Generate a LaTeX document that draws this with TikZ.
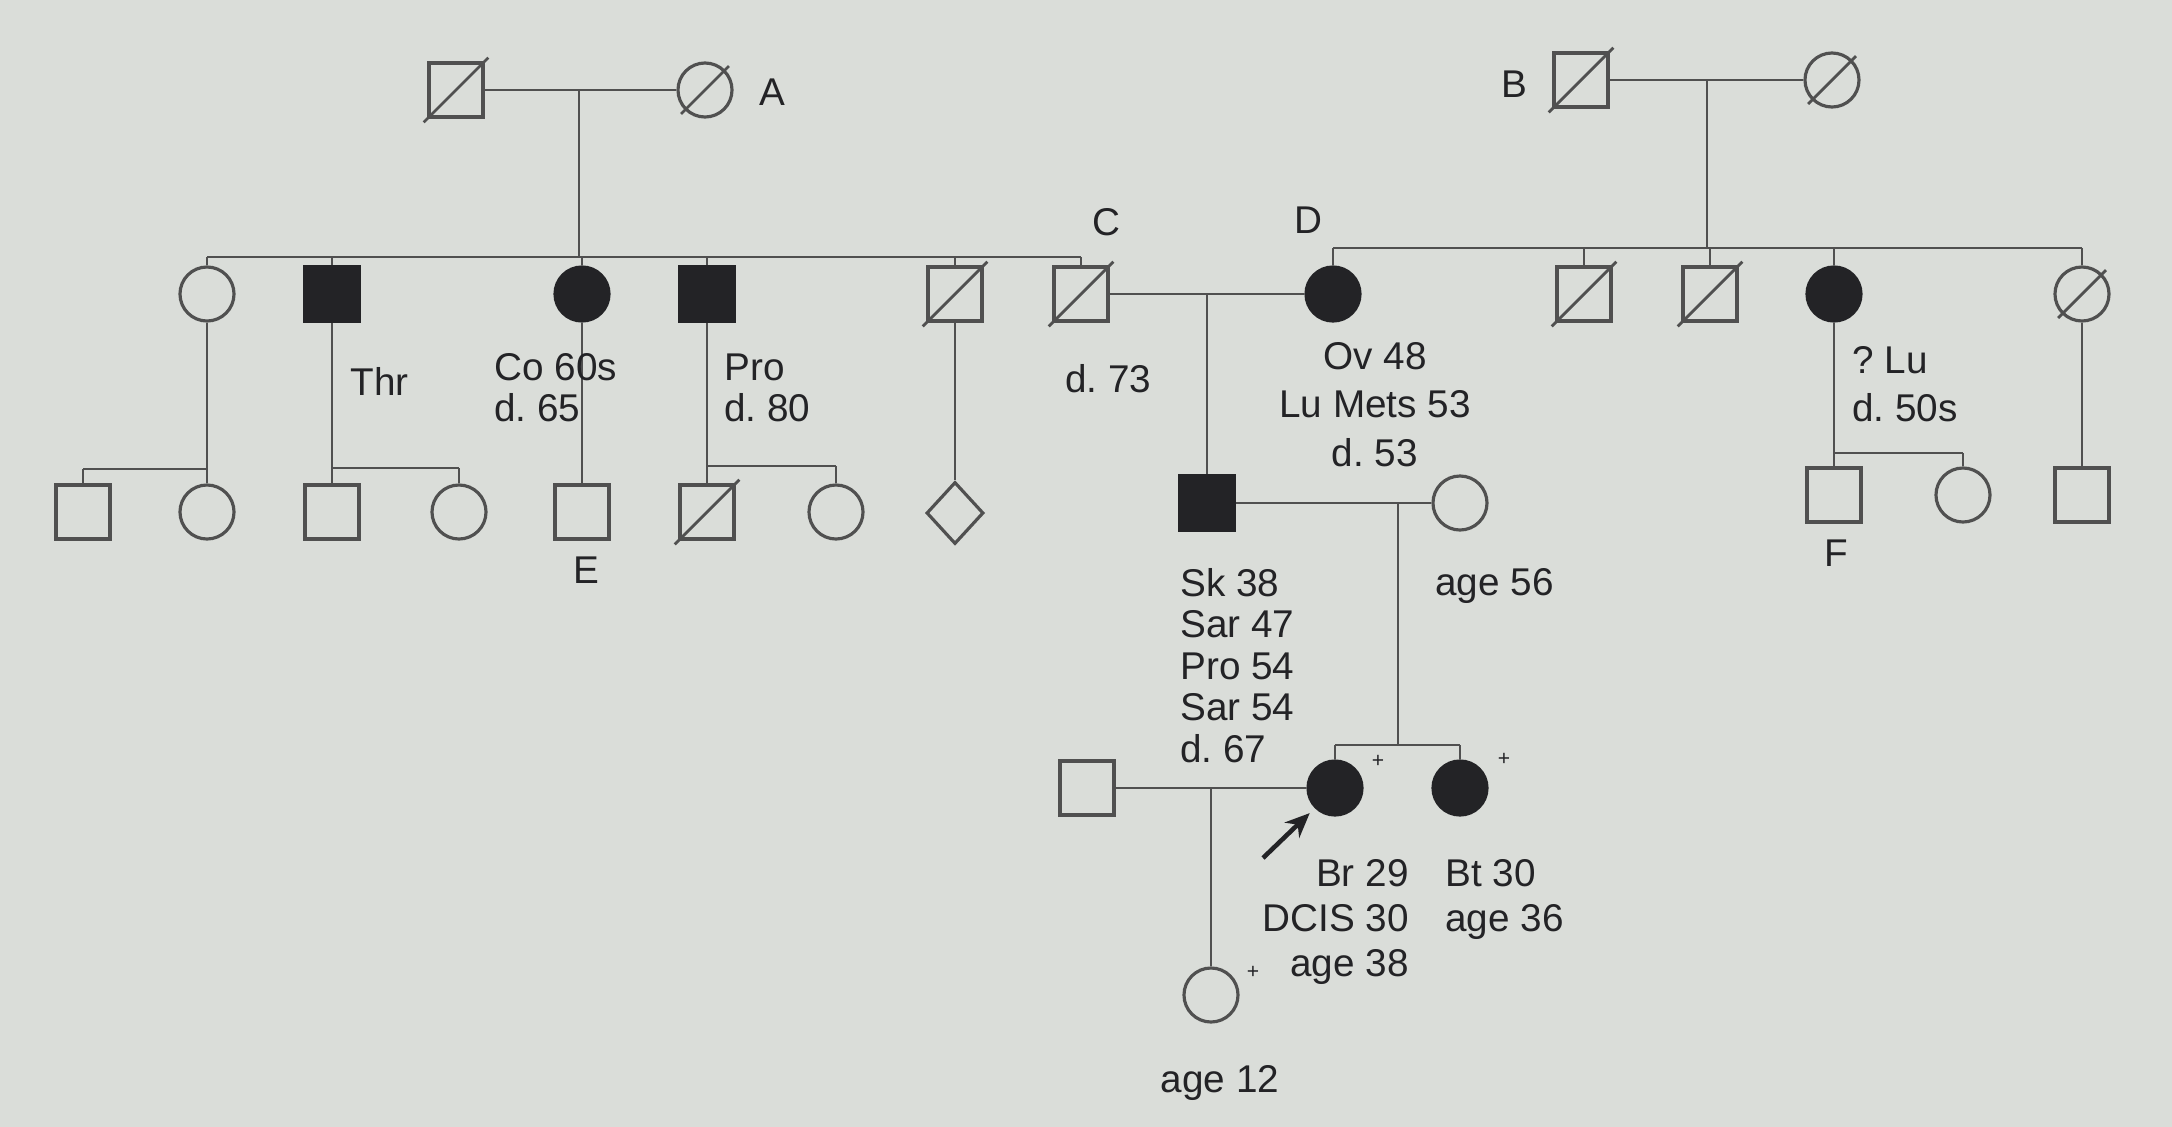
\documentclass[tikz,border=0pt]{standalone}
\usepackage{fontspec}
\setmainfont{Liberation Sans}
\usetikzlibrary{shapes.geometric,arrows.meta}
\definecolor{screen}{RGB}{218,221,217}
\definecolor{ink}{RGB}{35,35,38}
\definecolor{wire}{RGB}{80,80,80}
\frenchspacing

\begin{document}
\begin{tikzpicture}[x=0.01cm, y=-0.01cm, line width=0.8pt, wire,
  male/.style={rectangle, draw=wire, line width=0.9pt, minimum size=0.54cm, inner sep=0},
  female/.style={circle, draw=wire, line width=0.9pt, minimum size=0.54cm, inner sep=0},
  unknown/.style={diamond, draw=wire, line width=0.9pt, minimum width=0.57cm, minimum height=0.62cm, inner sep=0},
  affected/.style={fill=ink, draw=ink},
  dead/.style={append after command={(\tikzlastnode.south west) edge[draw=wire, line width=0.8pt, shorten <=-1.5pt, shorten >=-1.5pt] (\tikzlastnode.north east)}},
  lbl/.style={inner sep=0, text=ink, font=\fontsize{11}{11.8}\selectfont},
  tag/.style={inner sep=0, text=ink, font=\fontsize{6}{6}\selectfont}]
\fill[screen] (0,0) rectangle (2172,1127);
\useasboundingbox (0,0) rectangle (2172,1127);

% generation I
\node[male, dead] (gpA) at (456,90) {};
\node[female, dead] (gmA) at (705,90) {};
\node[male, dead] (gpB) at (1581,80) {};
\node[female, dead] (gmB) at (1832,80) {};
\coordinate (cA) at (579,90);
\coordinate (sA) at (579,257);
\coordinate (cB) at (1707,80);
\coordinate (sB) at (1707,248);
\draw (gpA) -- (gmA);
\draw (gpB) -- (gmB);
\draw (cA) -- (sA);
\draw (cB) -- (sB);

% generation II
\node[female] (a1) at (207,294) {};
\node[male, affected] (a2) at (332,294) {};
\node[female, affected] (a3) at (582,294) {};
\node[male, affected] (a4) at (707,294) {};
\node[male, dead] (a5) at (955,294) {};
\node[male, dead] (c) at (1081,294) {};
\node[female, affected] (d) at (1333,294) {};
\node[male, dead] (b2) at (1584,294) {};
\node[male, dead] (b3) at (1710,294) {};
\node[female, affected] (b4) at (1834,294) {};
\node[female, dead] (b5) at (2082,294) {};
\draw (a1 |- sA) -- (c |- sA);
\draw (d |- sB) -- (b5 |- sB);
\foreach \k in {a1,a2,a3,a4,a5,c} \draw (\k) -- (\k |- sA);
\foreach \k in {d,b2,b3,b4,b5} \draw (\k) -- (\k |- sB);
\draw (c) -- (d);
\coordinate (cCD) at (1207,294);

% generation III
\node[male] (g1) at (83,512) {};
\node[female] (g2) at (207,512) {};
\node[male] (g3) at (332,512) {};
\node[female] (g4) at (459,512) {};
\node[male] (e) at (582,512) {};
\node[male, dead] (g6) at (707,512) {};
\node[female] (g7) at (836,512) {};
\node[unknown] (g8) at (955,513) {};
\node[male, affected] (son) at (1207,503) {};
\node[female] (wife) at (1460,503) {};
\node[male] (f) at (1834,495) {};
\node[female] (g10) at (1963,495) {};
\node[male] (g11) at (2082,495) {};
\coordinate (s1) at (207,469);
\coordinate (s2) at (332,468);
\coordinate (s4) at (707,466);
\coordinate (s5) at (1834,453);
\draw (a1) -- (g2);
\draw (g1 |- s1) -- (s1);
\draw (g1) -- (g1 |- s1);
\draw (a2) -- (g3);
\draw (s2) -- (g4 |- s2);
\draw (g4) -- (g4 |- s2);
\draw (a3) -- (e);
\draw (a4) -- (g6);
\draw (s4) -- (g7 |- s4);
\draw (g7) -- (g7 |- s4);
\draw (a5) -- (g8);
\draw (cCD) -- (son);
\draw (son) -- (wife);
\draw (b4) -- (f);
\draw (s5) -- (g10 |- s5);
\draw (g10) -- (g10 |- s5);
\draw (b5) -- (g11);
\coordinate (cS) at (1398,503);
\coordinate (sS) at (1398,745);
\draw (cS) -- (sS);

% generation IV
\node[male] (hub) at (1087,788) {};
\node[female, affected] (pb) at (1335,788) {};
\node[female, affected] (sis) at (1460,788) {};
\draw (pb |- sS) -- (sis |- sS);
\draw (pb) -- (pb |- sS);
\draw (sis) -- (sis |- sS);
\draw (hub) -- (pb);
\coordinate (cP) at (1211,788);
\node[female] (kid) at (1211,995) {};
\draw (cP) -- (kid);
\coordinate (arrtail) at (1263,858);
\draw[ink, line width=1.3pt, -{Stealth[length=7pt, width=6pt]}, shorten >=2pt] (arrtail) -- (pb.south west);
\node[tag] (p1) at (1378,761) {+};
\node[tag] (p2) at (1504,759) {+};
\node[tag] (p3) at (1253,972) {+};

% labels
\node[lbl] (labA) at (772,92) {A};
\node[lbl] (labB) at (1514,84) {B};
\node[lbl] (labC) at (1106,222) {C};
\node[lbl] (labD) at (1308,220) {D};
\node[lbl] (labE) at (586,570) {E};
\node[lbl] (labF) at (1836,553) {F};
\node[lbl, anchor=west] (thr) at (349,381) {Thr};
\node[lbl, anchor=north west, align=left] (co) at (493,352) {Co 60s\\d. 65};
\node[lbl, anchor=north west, align=left] (pro) at (723,352) {Pro\\d. 80};
\node[lbl, anchor=west] (d73) at (1064,379) {d. 73};
\node[lbl, anchor=north, align=center] (ov) at (1375,341) {Ov 48\\[2pt]Lu Mets 53\\[2pt]d. 53};
\node[lbl, anchor=north west, align=left] (lu) at (1851,345) {? Lu\\[2pt]d. 50s};
\node[lbl, anchor=north west, align=left] (sk) at (1179,567) {Sk 38\\Sar 47\\Pro 54\\Sar 54\\d. 67};
\node[lbl, anchor=west] (a56) at (1434,586) {age 56};
\node[lbl, anchor=north east, align=right] (br) at (1410,858) {Br 29\\[1pt]DCIS 30\\[1pt]age 38};
\node[lbl, anchor=north west, align=left] (bt) at (1444,858) {Bt 30\\[1pt]age 36};
\node[lbl] (a12) at (1220,1083) {age 12};
\end{tikzpicture}
\end{document}
